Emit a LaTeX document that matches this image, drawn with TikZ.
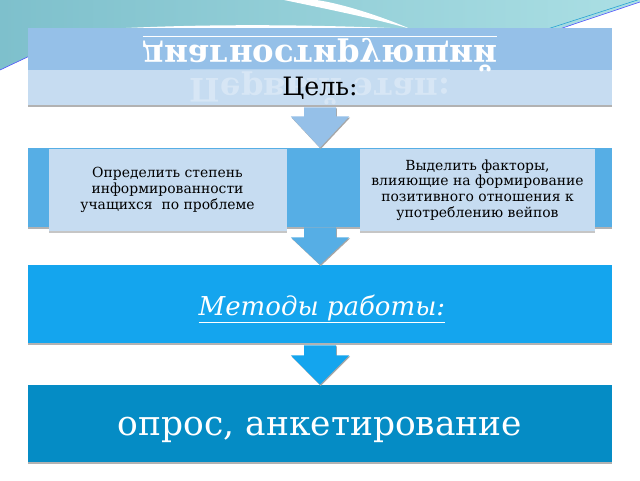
\documentclass[tikz,border=0pt]{standalone}
\usepackage{fontspec}
\setmainfont{DejaVu Serif}
\usetikzlibrary{calc, shadows}

\definecolor{tealL}{HTML}{7EC0CC}
\definecolor{tealR}{HTML}{ABDFE4}
\definecolor{stageblue}{HTML}{95C0E8}
\definecolor{paleblue}{HTML}{C6DCF1}
\definecolor{aimblue}{HTML}{56AEE5}
\definecolor{methblue}{HTML}{14A5EE}
\definecolor{toolblue}{HTML}{058CC5}

\begin{document}
\begin{tikzpicture}[
    band/.style={rectangle, minimum width=14.6cm, inner sep=0pt, general shadow={fill=gray!60, shadow yshift=-0.05cm}},
    subbox/.style={rectangle, fill=paleblue, minimum width=5.95cm, minimum height=2.05cm, align=center, inner sep=2pt, font=\fontsize{9.9}{11.2}\selectfont, general shadow={fill=gray!45, shadow yshift=-0.05cm}},
    flipped/.style={text=white, font=\fontsize{23}{27}\selectfont\bfseries, inner sep=0pt, anchor=base},
    blockarrow/.style={general shadow={fill=gray!70, shadow xshift=0.02cm, shadow yshift=-0.03cm}},
    bigtext/.style={text=white, inner sep=0pt, anchor=base}
]
    \useasboundingbox (0,0) rectangle (16,-12);
    \fill[white] (0,0) rectangle (16,-12);

    % Slide background at the top
    \shade[left color=tealL, right color=tealR] (0,0) -- (16,0) -- (16,-0.05) -- (14,-0.72) -- (0.7,-0.72) -- (0.7,-1.42) -- (0,-1.75) -- cycle;
    \fill[white] (2.75,-0.72) .. controls (5,-0.6) and (7.5,-0.6) .. (10.25,-0.72) -- cycle;
    \fill[white] (7.1,0) .. controls (8.3,-0.25) and (9.5,-0.5) .. (10.25,-0.72) .. controls (9.4,-0.35) and (8.4,-0.06) .. (7.9,0) -- cycle;
    \draw[blue!70, thin] (14,-0.72) -- (16,-0.05);
    \draw[cyan!70!teal, thin] (13.7,-0.72) -- (16,0.02);
    \draw[blue!70, thin] (0,-1.75) -- (0.7,-1.42);
    \draw[white, very thick] (0,-1.85) -- (0.7,-1.52);

    % Stage and goal
    \node[band, fill=stageblue, minimum height=1.05cm] (stage) at (8,-1.225) {};
    \node[band, fill=paleblue, minimum height=0.875cm] (goal) at (8,-2.1875) {};
    \node[flipped] (stagename) at (8,-1.14) {\scalebox{1}[-1]{\underline{диагностирующий}}};
    \node[flipped, opacity=0.3] (stagenum) at (8,-1.96) {\scalebox{1}[-1]{\underline{Первый этап:}}};
    \node[font=\fontsize{18}{22}\selectfont, inner sep=0pt, anchor=base] (goaltext) at (8,-2.375) {Цель:};

    % Aim with two tasks
    \node[band, fill=aimblue, minimum height=1.975cm] (aim) at (8,-4.6875) {};
    \fill[stageblue, blockarrow] ($(goal.south)+(-0.4,-0.05)$) -- ($(goal.south)+(-0.4,-0.28)$) -- ($(goal.south)+(-0.73,-0.28)$) -- (aim.north) -- ($(goal.south)+(0.73,-0.28)$) -- ($(goal.south)+(0.4,-0.28)$) -- ($(goal.south)+(0.4,-0.05)$) -- cycle;
    \node[subbox] (taskA) at (4.1875,-4.75) {Определить степень\\информированности\\учащихся~ по проблеме};
    \node[subbox, minimum width=5.875cm] (taskB) at (11.9375,-4.75) {Выделить факторы,\\влияющие на формирование\\позитивного отношения к\\употреблению вейпов};

    % Methods
    \node[band, fill=methblue, minimum height=1.95cm] (methods) at (8,-7.6) {};
    \fill[aimblue, blockarrow] ($(aim.south)+(-0.4,0)$) -- ($(aim.south)+(-0.4,-0.25)$) -- ($(aim.south)+(-0.73,-0.25)$) -- (methods.north) -- ($(aim.south)+(0.73,-0.25)$) -- ($(aim.south)+(0.4,-0.25)$) -- ($(aim.south)+(0.4,0)$) -- cycle;
    \node[bigtext, font=\fontsize{18.5}{22}\selectfont] (methtext) at (8.05,-7.875) {\underline{\textit{Методы работы:}}};

    % Tools
    \node[band, fill=toolblue, minimum height=1.925cm] (tools) at (8,-10.5875) {};
    \fill[methblue, blockarrow] ($(methods.south)+(-0.4,-0.05)$) -- ($(methods.south)+(-0.4,-0.3)$) -- ($(methods.south)+(-0.73,-0.3)$) -- (tools.north) -- ($(methods.south)+(0.73,-0.3)$) -- ($(methods.south)+(0.4,-0.3)$) -- ($(methods.south)+(0.4,-0.05)$) -- cycle;
    \node[bigtext, font=\fontsize{24.5}{29}\selectfont] (toolstext) at (8,-10.875) {опрос, анкетирование};
\end{tikzpicture}
\end{document}
